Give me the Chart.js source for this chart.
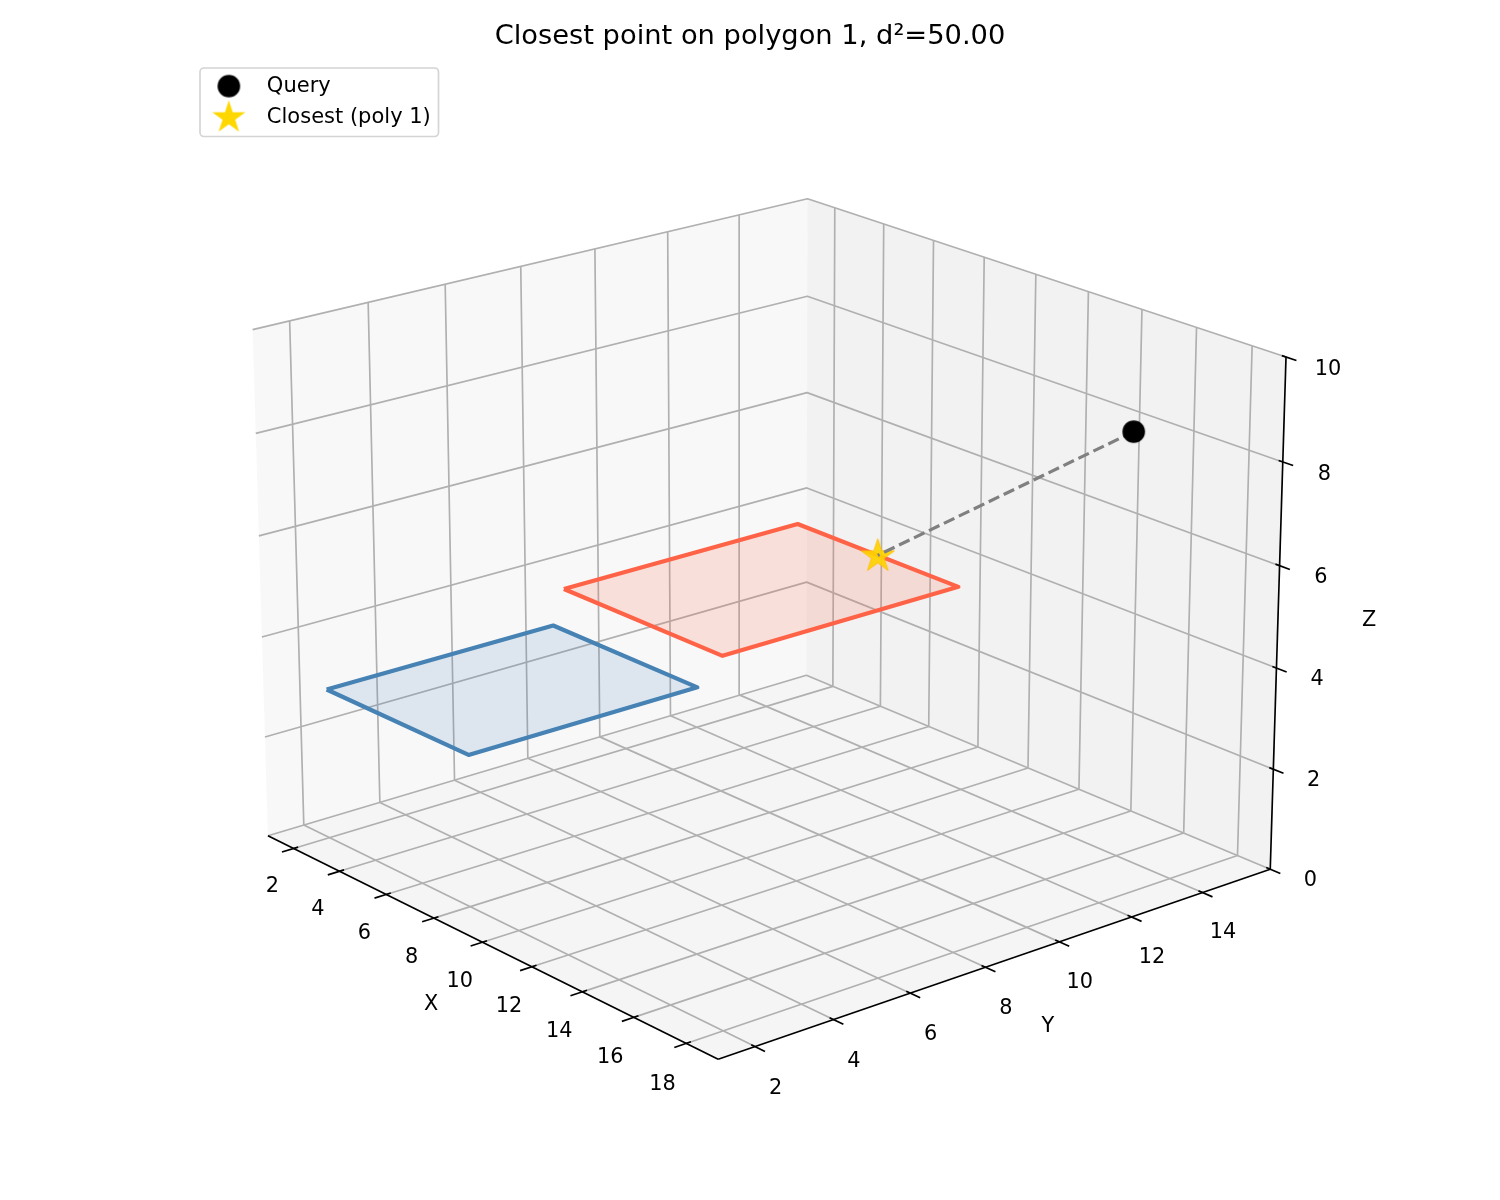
<!DOCTYPE html>
<html>
<head>
<meta charset="utf-8">
<title>Closest point on polygon</title>
<style>html,body{margin:0;padding:0;background:#fff}canvas{display:block}</style>
<script src="https://cdn.jsdelivr.net/npm/chart.js"></script>
</head>
<body>
<canvas id="c" width="1500" height="1200"></canvas>
<script>
// ---- data ----
const titleText = 'Closest point on polygon 1, d\u00B2=50.00';
const xTicks = [2,4,6,8,10,12,14,16,18];
const yTicks = [2,4,6,8,10,12,14];
const zTicks = [0,2,4,6,8,10];
const xLimits = [0.87,19.2];
const yLimits = [1.07,15.95];
const zLimits = [0,10];
const bluePolyX = [2.05,8.05,8.05,2.05];
const bluePolyY = [2,2,8,8];
const bluePolyZ = [3,3,3,3];
const redPolyX = [6.0,12.35,12.35,6.0];
const redPolyY = [5.8,5.8,12.15,12.15];
const redPolyZ = [5,5,5,5];
const queryPoint = [15.06,14.97,8];
const closestPoint = [9.21,12.15,5];
const queryLabel = 'Query';
const closestLabel = 'Closest (poly 1)';

// ---- 3D camera (elev 20, azim -40) ----
const D2R = Math.PI/180, elev = 20*D2R, azim = -40*D2R;
const box = [1.1905,1.1905,0.8929], dist = 10;
const scalePx = 6067, cx = 765.7, cy = 601.7;
const nV = [Math.cos(elev)*Math.cos(azim), Math.cos(elev)*Math.sin(azim), Math.sin(elev)];
const rV = [-Math.sin(azim), Math.cos(azim), 0];
const uV = [-Math.sin(elev)*Math.cos(azim), -Math.sin(elev)*Math.sin(azim), Math.cos(elev)];
const dot = (a,b)=>a[0]*b[0]+a[1]*b[1]+a[2]*b[2];
const frac = (v,l)=>(v-l[0])/(l[1]-l[0]);
function project(x,y,z){
  const q = [box[0]*(frac(x,xLimits)-.5), box[1]*(frac(y,yLimits)-.5), box[2]*(frac(z,zLimits)-.5)];
  const d = dist - dot(nV,q);
  return {x: cx + scalePx*dot(rV,q)/d, y: cy - scalePx*dot(uV,q)/d};
}
const [x0,x1]=xLimits,[y0,y1]=yLimits,[z0,z1]=zLimits;
const xs = x1-x0, ys = y1-y0;
const path = pts => pts.map(p=>project(p[0],p[1],p[2]));
function ring(X,Y,Z){const a=X.map((v,i)=>[v,Y[i],Z[i]]);a.push(a[0]);return path(a);}

// ---- marker images ----
function starCanvas(r,fill,edge,shift){
  const s=Math.ceil(r*2+4),c=document.createElement('canvas');c.width=s;c.height=s;
  const g=c.getContext('2d');g.translate(s/2,s/2+r*0.05+shift);g.beginPath();
  const inner=r*0.382;
  for(let i=0;i<10;i++){const R=i%2?inner:r,a=-Math.PI/2+i*Math.PI/5;
    g[i?'lineTo':'moveTo'](R*Math.cos(a),R*Math.sin(a));}
  g.closePath();g.fillStyle=fill;g.fill();
  if(edge){g.strokeStyle=edge;g.lineWidth=1;g.stroke();}
  return c;
}
function dotCanvas(r,shift){
  const s=Math.ceil(r*2+4),c=document.createElement('canvas');c.width=s;c.height=s;
  const g=c.getContext('2d');g.beginPath();g.arc(s/2,s/2+shift,r,0,Math.PI*2);g.fillStyle='#000';g.fill();
  return c;
}
const queryImg = dotCanvas(11.3,0);
const queryLegendImg = dotCanvas(11.3,0);
const starImg = starCanvas(17.5,'rgba(255,210,0,0.92)','rgba(255,190,0,0.9)',0);
const starLegendImg = starCanvas(17.5,'#ffd700',null,-0.5);

// ---- datasets (first listed is drawn on top) ----
const line = (data,color,width,extra)=>Object.assign({data,showLine:true,borderColor:color,borderWidth:width,
  pointRadius:0,tension:0,clip:false,fill:false,borderCapStyle:'butt',borderJoinStyle:'round'},extra||{});
const datasets = [];
datasets.push({label:queryLabel,data:path([queryPoint]),pointStyle:queryImg,pointRadius:11,showLine:false,clip:false});
datasets.push(line(path([queryPoint,closestPoint]),'#808080',3.2,{borderDash:[11.6,5],label:'link'}));
datasets.push({label:closestLabel,data:path([closestPoint]),pointStyle:starImg,pointRadius:17,showLine:false,clip:false});
datasets.push(line(ring(redPolyX,redPolyY,redPolyZ),'#ff6347',4.17,{fill:'shape',backgroundColor:'rgba(255,99,71,0.17)',label:'p1'}));
datasets.push(line(ring(bluePolyX,bluePolyY,bluePolyZ),'#4682b4',4.17,{fill:'shape',backgroundColor:'rgba(70,130,180,0.15)',label:'p0'}));
// axes and tick marks
const tIn=0.008,tOut=0.02, ink='#000', tw=1.67, gridC='#b0b0b0';
datasets.push(line(path([[x0,y0,z0],[x1,y0,z0]]),ink,tw));
datasets.push(line(path([[x1,y0,z0],[x1,y1,z0]]),ink,tw));
datasets.push(line(path([[x1,y1,z0],[x1,y1,z1]]),ink,tw));
xTicks.forEach(t=>datasets.push(line(path([[t,y0+tIn*ys,z0],[t,y0-tOut*ys,z0]]),ink,tw)));
yTicks.forEach(t=>datasets.push(line(path([[x1-tIn*xs,t,z0],[x1+tOut*xs,t,z0]]),ink,tw)));
zTicks.forEach(t=>datasets.push(line(path([[x1-tIn*xs,y1,t],[x1+tOut*xs,y1,t]]),ink,tw)));
// grid
xTicks.forEach(t=>datasets.push(line(path([[t,y0,z0],[t,y1,z0],[t,y1,z1]]),gridC,1.67)));
yTicks.forEach(t=>datasets.push(line(path([[x1,t,z0],[x0,t,z0],[x0,t,z1]]),gridC,1.67)));
zTicks.forEach(t=>datasets.push(line(path([[x0,y0,t],[x0,y1,t],[x1,y1,t]]),gridC,1.67)));
// panes
const pane=(pts,col)=>line(path(pts),'rgba(0,0,0,0)',0,{fill:'shape',backgroundColor:col});
datasets.push(pane([[x0,y0,z0],[x1,y0,z0],[x1,y1,z0],[x0,y1,z0],[x0,y0,z0]],'rgba(235.875,235.875,235.875,0.5)'));
datasets.push(pane([[x0,y1,z0],[x1,y1,z0],[x1,y1,z1],[x0,y1,z1],[x0,y1,z0]],'rgba(230,230,230,0.5)'));
datasets.push(pane([[x0,y0,z0],[x0,y1,z0],[x0,y1,z1],[x0,y0,z1],[x0,y0,z0]],'rgba(242,242,242,0.5)'));

// ---- text and frame plugin ----
const tickFont='20.83px "DejaVu Sans"';
const textPlugin={
  id:'axisText',
  afterLayout(chart){ if(chart.legend){chart.legend.left=191.2;chart.legend.top=65.4;} },
  beforeDraw(chart){
    const g=chart.ctx;g.save();g.beginPath();g.roundRect(200,68,238.5,68.5,4);
    g.fillStyle='rgba(255,255,255,0.8)';g.fill();g.strokeStyle='#d4d4d4';g.lineWidth=1.67;g.stroke();g.restore();
  },
  afterDraw(chart){
    const g=chart.ctx;g.save();g.fillStyle='#000';g.font=tickFont;g.textAlign='center';g.textBaseline='middle';
    xTicks.forEach(t=>{const p=project(t,y0,z0),f=frac(t,xLimits);g.fillText(String(t),p.x-21-3*f,p.y+38+3*f);});
    yTicks.forEach(t=>{const p=project(x1,t,z0),f=frac(t,yLimits);g.fillText(String(t),p.x+20.5,p.y+42-2*f);});
    zTicks.forEach(t=>{const p=project(x1,y1,t),f=frac(t,zLimits);g.fillText(String(t),p.x+40+2*f,p.y+11+2*f);});
    let p=project((x0+x1)/2,y0,z0);g.fillText('X',p.x-52,p.y+62);
    p=project(x1,(y0+y1)/2,z0);g.fillText('Y',p.x+43.5,p.y+66);
    p=project(x1,y1,(z0+z1)/2);g.fillText('Z',p.x+91,p.y+4);
    g.restore();
  }
};

new Chart(document.getElementById('c'),{
  type:'scatter',
  data:{datasets},
  plugins:[textPlugin],
  options:{
    responsive:false,animation:false,devicePixelRatio:1,events:[],
    layout:{padding:0,autoPadding:false},
    scales:{
      x:{type:'linear',display:false,min:0,max:1500},
      y:{type:'linear',display:false,reverse:true,min:53.76,max:1200}
    },
    plugins:{
      tooltip:{enabled:false},
      title:{display:true,text:titleText,color:'#000',font:{family:'"DejaVu Sans"',size:27.3,weight:'normal',lineHeight:1.2},padding:{top:21,bottom:0}},
      legend:{display:true,position:'chartArea',align:'start',
        labels:{usePointStyle:true,pointStyleWidth:55,boxHeight:20.83,padding:10.17,color:'#000',
          font:{family:'"DejaVu Sans"',size:21},
          generateLabels(chart){
            return Chart.defaults.plugins.legend.labels.generateLabels(chart)
              .filter(l=>l.text===queryLabel||l.text===closestLabel)
              .map(l=>Object.assign(l,{pointStyle:l.text===queryLabel?queryLegendImg:starLegendImg,lineWidth:0}));
          }
        }
      }
    }
  }
});
</script>
</body>
</html>
